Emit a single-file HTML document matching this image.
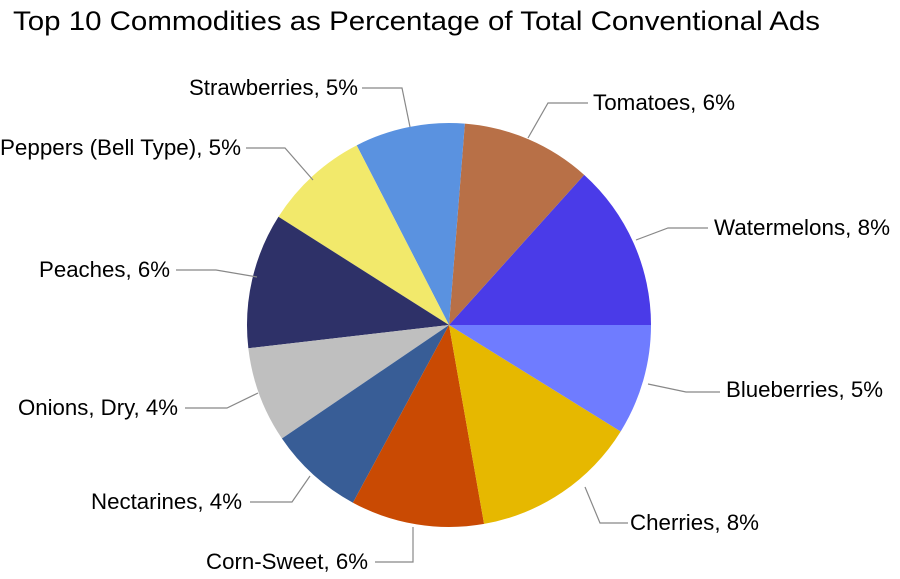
<!DOCTYPE html>
<html><head><style>
html,body{margin:0;padding:0;background:#fff;}
svg{display:block;}
text{font-family:"Liberation Sans",Arial,sans-serif;font-size:22px;fill:#000;}
</style></head><body>
<svg width="900" height="579" xmlns="http://www.w3.org/2000/svg">
<rect width="900" height="579" fill="#fff"/>
<text x="13" y="30" textLength="807" lengthAdjust="spacingAndGlyphs" style="font-size:27px">Top 10 Commodities as Percentage of Total Conventional Ads</text>
<g id="pie"></g>
<g fill="none" stroke="#888" stroke-width="1.2">
<polyline points="410,127 402,88 362,88"/>
<polyline points="528,138 548,103 588,103"/>
<polyline points="636,240 668,228 708,228"/>
<polyline points="648,384 686,392 720,392"/>
<polyline points="585,487 600,523 628,523"/>
<polyline points="413,527 413,562 375,562"/>
<polyline points="310,476 292,502 250,502"/>
<polyline points="258,393 227,408 185,408"/>
<polyline points="257,277 216,270 176,270"/>
<polyline points="313,180 285,148 246,148"/>
</g>
<text x="189" y="95" textLength="169" lengthAdjust="spacingAndGlyphs">Strawberries, 5%</text>
<text x="593" y="110" textLength="142" lengthAdjust="spacingAndGlyphs">Tomatoes, 6%</text>
<text x="714" y="235" textLength="176" lengthAdjust="spacingAndGlyphs">Watermelons, 8%</text>
<text x="726" y="397" textLength="157" lengthAdjust="spacingAndGlyphs">Blueberries, 5%</text>
<text x="630" y="530" textLength="129" lengthAdjust="spacingAndGlyphs">Cherries, 8%</text>
<text x="206" y="569" textLength="162" lengthAdjust="spacingAndGlyphs">Corn-Sweet, 6%</text>
<text x="91" y="509" textLength="151" lengthAdjust="spacingAndGlyphs">Nectarines, 4%</text>
<text x="18" y="415" textLength="160" lengthAdjust="spacingAndGlyphs">Onions, Dry, 4%</text>
<text x="39" y="277" textLength="131" lengthAdjust="spacingAndGlyphs">Peaches, 6%</text>
<text x="0" y="155" textLength="241" lengthAdjust="spacingAndGlyphs">Peppers (Bell Type), 5%</text>
</svg>
<script>
var cx=449,cy=325,r=202;
var b=[0,48,85.5,117.2,147.6,186.6,214.2,241.6,280,328.2,360];
var c=["#4a3be8","#b87047","#5a92e0","#f2e96b","#2e3168","#bfbfbf","#385d96","#c94a03","#e6b800","#6f7cff"];
var g=document.getElementById("pie"),s="";
function p(a){a=a*Math.PI/180;return (cx+r*Math.cos(a)).toFixed(2)+","+(cy-r*Math.sin(a)).toFixed(2);}
for(var i=0;i<10;i++){var la=(b[i+1]-b[i])>180?1:0;
s+='<path d="M'+cx+','+cy+' L'+p(b[i])+' A'+r+','+r+' 0 '+la+' 0 '+p(b[i+1])+' Z" fill="'+c[i]+'"/>';}
g.innerHTML=s;
</script>
</body></html>
